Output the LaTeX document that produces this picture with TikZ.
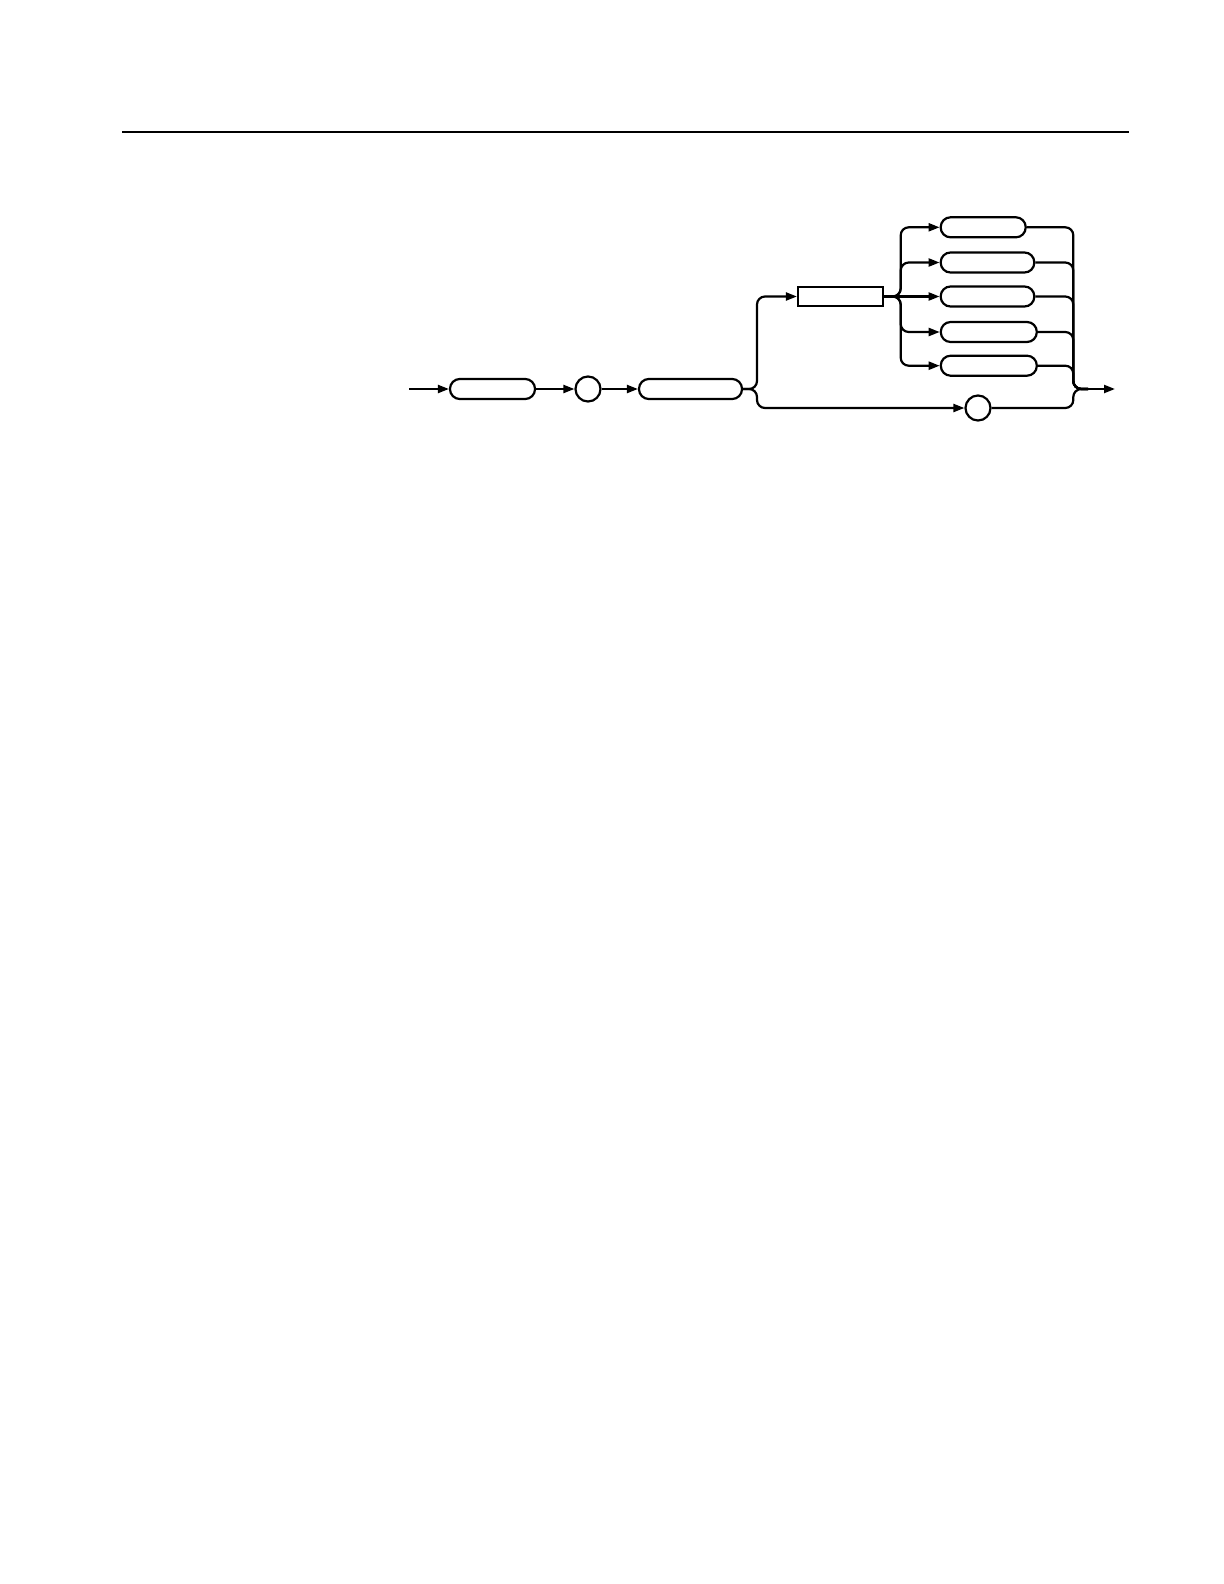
\documentclass[tikz,border=0pt]{standalone}
\usepackage{tikz}
\usetikzlibrary{positioning, arrows.meta}

\begin{document}
\begin{tikzpicture}[x=0.5pt,y=-0.5pt,line width=1.1pt,
  pill/.style={draw,rounded corners=4.9pt,inner sep=0pt,minimum height=10pt},
  cmd/.style={draw,rectangle,inner sep=0pt,minimum height=9.5pt},
  ring/.style={draw,circle,inner sep=0pt,minimum size=12.5pt},
  arr/.style={-{Triangle[length=5.5pt,width=4pt]}},
  curvy/.style={rounded corners=4pt}]

\useasboundingbox (0,0) rectangle (1224,1584);

% Rule
\draw[line width=0.7pt] (122,132) -- (1129,132);

% Main line
\coordinate (start) at (409,389);
\node[pill,minimum width=42.5pt] (head) at (492.5,389) {};
\node[ring] (sep) at (588,389) {};
\node[pill,minimum width=51.5pt] (name) at (690.5,389) {};

% Branches
\node[cmd,minimum width=42.5pt] (query) at (840.5,296.5) {};
\node[ring] (ask) at (978,408) {};

% Options
\node[pill,minimum width=42.5pt] (optA) at (983.2,227.3) {};
\node[pill,minimum width=46.8pt] (optB) at (987.5,262.5) {};
\node[pill,minimum width=46.8pt] (optC) at (987.5,296.5) {};
\node[pill,minimum width=48pt] (optD) at (988.8,332) {};
\node[pill,minimum width=48pt] (optE) at (988.8,365.7) {};

% Joints
\coordinate (split) at (757,389);
\coordinate (fork) at (900.7,296.5);
\coordinate (join) at (1088,389);
\coordinate (exit) at (1115,389);

\draw[arr] (start) -- (head);
\draw[arr] (head) -- (sep);
\draw[arr] (sep) -- (name);

\draw[arr,curvy] (name.east) -- (split) |- (query.west);
\draw[arr,curvy] (name.east) -- (split) |- (ask.west);

\draw[arr,curvy] (query.east) -- (fork) |- (optA.west);
\draw[arr,curvy] (query.east) -- (fork) |- (optB.west);
\draw[arr] (query.east) -- (optC.west);
\draw[arr,curvy] (query.east) -- (fork) |- (optD.west);
\draw[arr,curvy] (query.east) -- (fork) |- (optE.west);

\foreach \o in {optA,optB,optC,optD,optE,ask}
  \draw[curvy] (\o.east) -| (1073.3,389) -- (join);
\draw[arr] (join) -- (exit);

\end{tikzpicture}
\end{document}
